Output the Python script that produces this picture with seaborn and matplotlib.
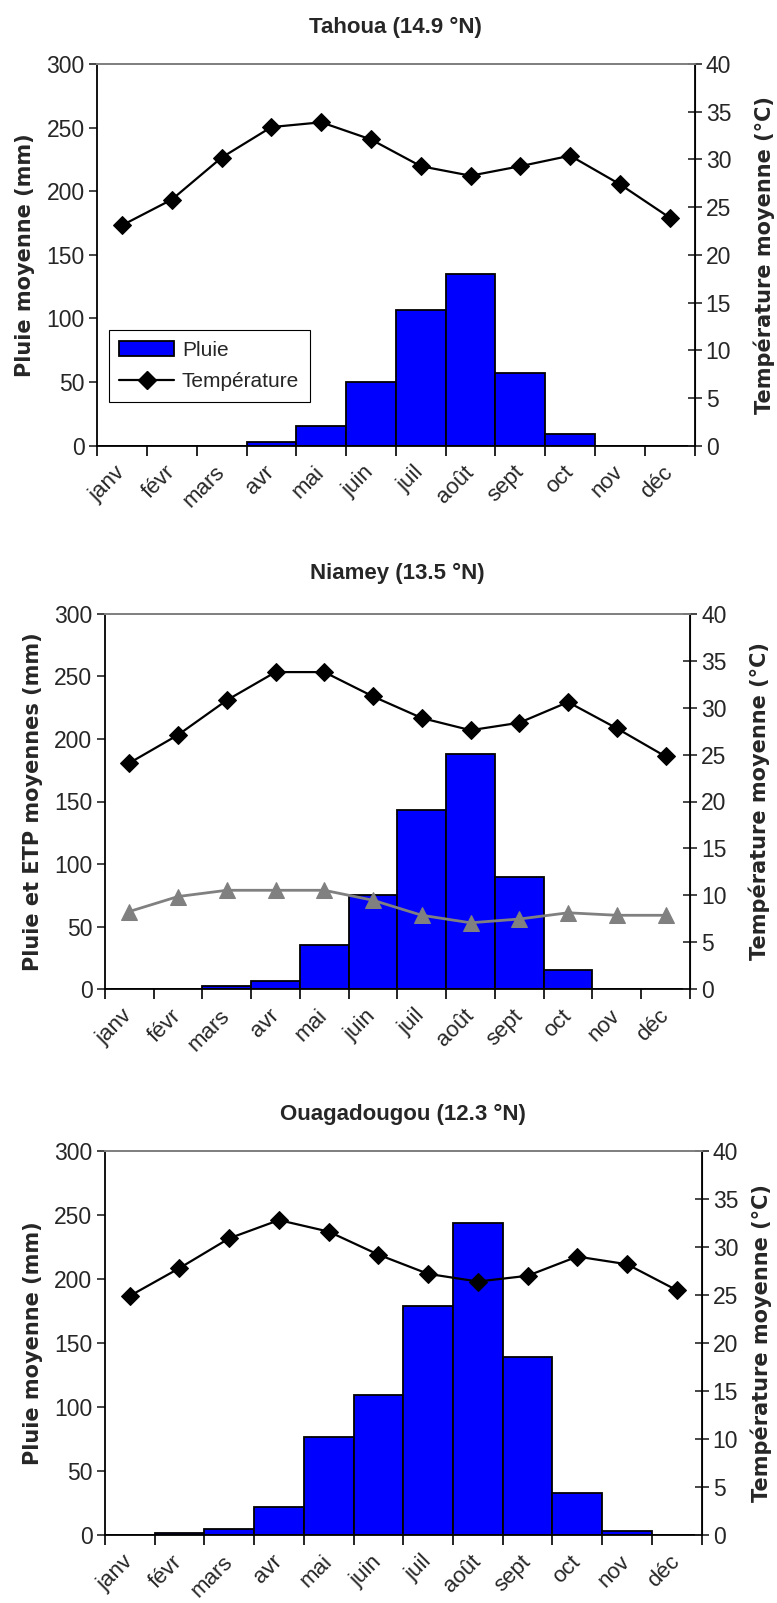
import numpy as np
import pandas as pd
import seaborn as sns
import matplotlib
matplotlib.use('Agg')
import matplotlib.pyplot as plt
from matplotlib.lines import Line2D
from matplotlib.patches import Patch

months = ['janv', 'févr', 'mars', 'avr', 'mai', 'juin', 'juil', 'août', 'sept', 'oct', 'nov', 'déc']

tahoua_pluie = [0, 0, 0, 3, 15.5, 50, 107, 135, 57, 9, 0, 0]
tahoua_temp = [23.1, 25.8, 30.2, 33.4, 33.9, 32.1, 29.3, 28.3, 29.3, 30.4, 27.4, 23.9]

niamey_pluie = [0, 0, 2.7, 6.2, 35, 75.5, 143, 188, 90, 15.5, 0, 0]
niamey_temp = [24.1, 27.1, 30.8, 33.8, 33.8, 31.2, 28.9, 27.6, 28.4, 30.6, 27.8, 24.8]
niamey_etp = [62, 74, 79, 79, 79, 71, 59, 53, 56, 61, 59, 59]

ouaga_pluie = [0, 1.8, 4.9, 22, 76.5, 109, 179, 244, 139, 33, 3.4, 0]
ouaga_temp = [24.9, 27.8, 30.9, 32.8, 31.6, 29.2, 27.2, 26.4, 27.0, 29.0, 28.2, 25.5]

sns.set_style('ticks')
plt.rcParams['font.family'] = ['Liberation Sans', 'DejaVu Sans']

fig = plt.figure(figsize=(7.77, 16.03), dpi=100)


def panel(rect, pluie, temp, title, ylabel, etp=None, legend=False,
          title_pad=22.5, right_pad=16):
    ax = fig.add_axes(rect)
    df = pd.DataFrame({'mois': months, 'pluie': pluie})
    sns.barplot(data=df, x='mois', y='pluie', color='#0000FF', saturation=1,
                width=1, edgecolor='black', linewidth=1.3, ax=ax, zorder=2)
    if etp is not None:
        sns.lineplot(x=np.arange(12), y=etp, color='#808080', marker='^', markersize=12,
                     markeredgecolor='#808080', linewidth=2, ax=ax, zorder=3)
    ax.set_xlim(-0.5, 11.5)
    ax.set_ylim(0, 300)
    ax.set_yticks(np.arange(0, 301, 50))
    ax.set_xticks(np.arange(13) - 0.5)
    ax.set_xticklabels([])
    ax.set_xticks(np.arange(12), minor=True)
    ax.set_xticklabels(months, minor=True, rotation=45, ha='right', va='center',
                       rotation_mode='anchor', fontsize=16)
    ax.tick_params(axis='x', which='minor', length=0, pad=17)
    ax.tick_params(axis='x', which='major', length=7, width=1.2, color='black')
    ax.tick_params(axis='y', length=6, width=1.2, labelsize=16.5, pad=3)
    ax.set_xlabel('')
    ax.set_ylabel(ylabel, fontsize=15, fontweight='bold', family='DejaVu Sans', labelpad=8)
    ax.set_title(title, fontsize=16, fontweight='bold', pad=title_pad)
    for s in ['left', 'bottom']:
        ax.spines[s].set_linewidth(1.3)
        ax.spines[s].set_color('black')
    ax.spines['top'].set_color('#808080')
    ax.spines['top'].set_linewidth(1.3)

    ax2 = ax.twinx()
    sns.lineplot(x=np.arange(12), y=temp, color='black', marker='D', markersize=9,
                 markeredgecolor='black', linewidth=1.6, ax=ax2, zorder=4)
    ax2.set_ylim(0, 40)
    ax2.set_yticks(np.arange(0, 41, 5))
    ax2.tick_params(axis='y', direction='inout', length=10, width=1.2, labelsize=16.5, pad=3)
    ax2.set_ylabel('Température moyenne (°C)', fontsize=15, fontweight='bold',
                   family='DejaVu Sans', labelpad=right_pad)
    ax2.spines['right'].set_linewidth(1.3)
    ax2.spines['right'].set_color('black')
    ax2.spines['top'].set_color('#808080')
    ax2.spines['top'].set_linewidth(1.3)
    ax2.spines['left'].set_visible(False)
    ax2.spines['bottom'].set_visible(False)

    if legend:
        handles = [Patch(facecolor='#0000FF', edgecolor='black', linewidth=1.3),
                   Line2D([0], [0], color='black', marker='D', markersize=9, linewidth=1.6)]
        leg = ax2.legend(handles, ['Pluie', 'Température'], loc='lower left',
                         bbox_to_anchor=(0.02, 0.115), borderaxespad=0, fontsize=15,
                         fancybox=False, framealpha=1, edgecolor='black',
                         handlelength=2.6, labelspacing=0.6, borderpad=0.5, handletextpad=0.4)
        leg.get_frame().set_linewidth(0.8)
    return ax, ax2


panel([0.125, 0.722, 0.769, 0.238], tahoua_pluie, tahoua_temp,
      'Tahoua (14.9 °N)', 'Pluie moyenne (mm)', legend=True)
panel([0.135, 0.383, 0.753, 0.234], niamey_pluie, niamey_temp,
      'Niamey (13.5 °N)', 'Pluie et ETP moyennes (mm)', etp=niamey_etp, title_pad=25)
panel([0.135, 0.0424, 0.768, 0.2396], ouaga_pluie, ouaga_temp,
      'Ouagadougou (12.3 °N)', 'Pluie moyenne (mm)', right_pad=9)

fig.savefig('out.png', dpi=100, facecolor='white')
